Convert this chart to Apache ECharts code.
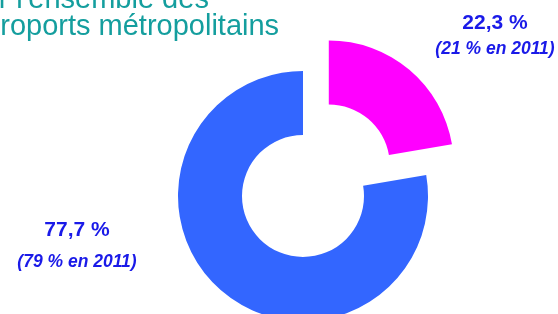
<!DOCTYPE html>
<html>
<head>
<meta charset="utf-8">
<script src="https://cdn.jsdelivr.net/npm/echarts@6/dist/echarts.min.js"></script>
<style>
  html, body { margin: 0; padding: 0; background: #fff; }
  #chart { width: 558px; height: 314px; }
</style>
</head>
<body>
<div id="chart"></div>
<script>
// parts des deux segments (2012 puis rappel 2011)
const categories = ['Segment 1', 'Segment 2']
const values2012 = [22.3, 77.7]
const values2011 = [21, 79]
const sliceColors = ['#ff00ff', '#3366ff']
const titleLines = ["sur l'ensemble des", 'aéroports métropolitains']

const fmt = v => String(v).replace('.', ',')

const chart = echarts.init(document.getElementById('chart'))

// position des étiquettes : [x centre, y ligne 1, y ligne 2]
const labelPos = [[495, 23, 49], [77, 230, 262]]

const labelGraphics = []
categories.forEach((c, i) => {
  const [x, y1, y2] = labelPos[i]
  labelGraphics.push({
    type: 'text', x: x, y: y1,
    style: {
      text: fmt(values2012[i]) + ' %',
      font: 'bold 21px "Liberation Sans", Arial, sans-serif',
      fill: '#1a1ae8', align: 'center', verticalAlign: 'middle'
    }
  })
  labelGraphics.push({
    type: 'text', x: x, y: y2,
    style: {
      text: '(' + fmt(values2011[i]) + ' % en 2011)',
      font: 'italic bold 17.5px "Liberation Sans", Arial, sans-serif',
      fill: '#1a1ae8', align: 'center', verticalAlign: 'middle'
    }
  })
})

const titleFont = '29px "Liberation Sans", Arial, sans-serif'

chart.setOption({
  animation: false,
  graphic: [
    {
      type: 'text', x: -32, y: 0,
      style: { text: titleLines[0], font: titleFont, fill: '#149e9e', verticalAlign: 'middle' }
    },
    {
      type: 'text', x: -32, y: 27,
      style: { text: titleLines[1], font: titleFont, fill: '#149e9e', verticalAlign: 'middle' }
    },
    ...labelGraphics
  ],
  series: [
    {
      type: 'pie',
      center: [303, 196],
      radius: [61, 125],
      startAngle: 90,
      clockwise: true,
      selectedMode: 'single',
      selectedOffset: 40,
      label: { show: false },
      labelLine: { show: false },
      emphasis: { disabled: true },
      data: categories.map((c, i) => ({
        name: c,
        value: values2012[i],
        selected: i === 0,
        itemStyle: { color: sliceColors[i] }
      }))
    }
  ]
})
</script>
</body>
</html>
